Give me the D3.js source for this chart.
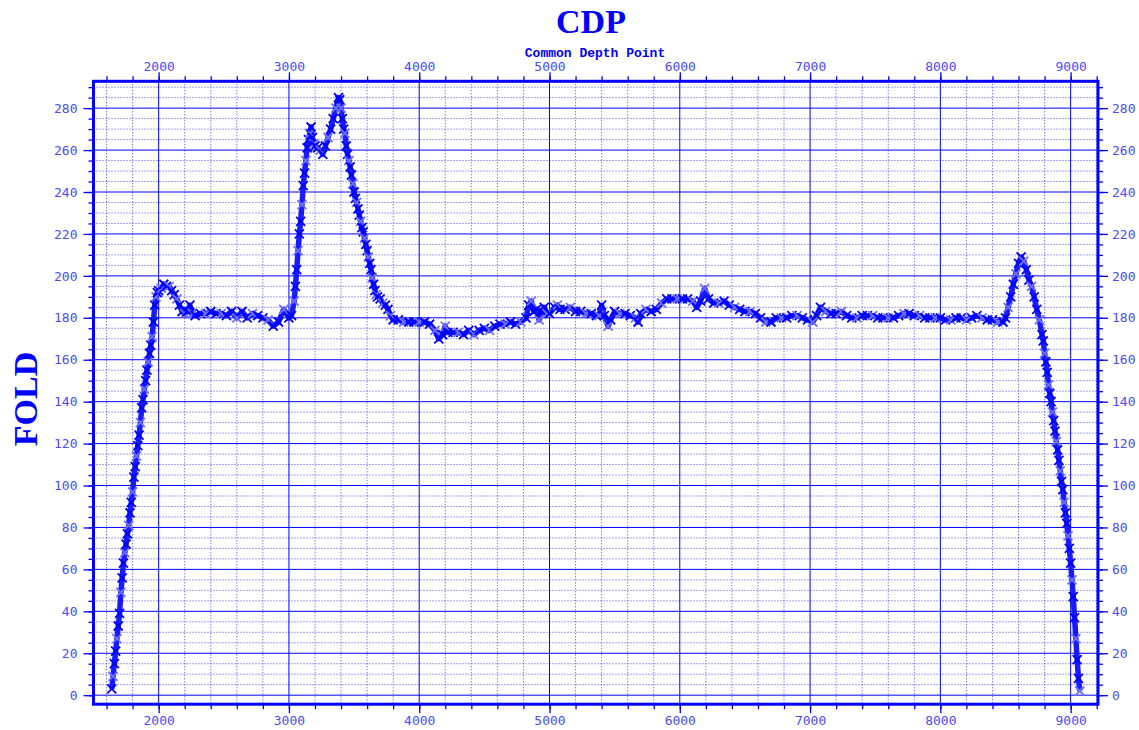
<!DOCTYPE html>
<html>
<head>
<meta charset="utf-8">
<script src="https://cdn.jsdelivr.net/npm/d3@7"></script>
<style>
  body { margin: 0; background: #fff; }
  .tick text { font-family: "DejaVu Sans Mono", monospace; font-size: 13px; fill: #4a4aff; }
</style>
</head>
<body>
<div id="chart"></div>
<script>
// CDP numbers
var cdp = [
  1640,1650,1660,1670,1680,1690,1700,1710,1720,1730,1740,1750,1760,1770,1780,1790,
  1800,1810,1820,1830,1840,1850,1860,1870,1880,1890,1900,1910,1920,1930,1940,1950,
  1960,1970,1980,1990,2000,2020,2040,2060,2080,2100,2120,2140,2160,2180,2200,2220,
  2240,2260,2280,2320,2360,2400,2440,2480,2520,2560,2600,2640,2680,2720,2760,2800,
  2840,2880,2920,2960,3000,3020,3040,3050,3060,3070,3080,3090,3100,3110,3120,3130,
  3140,3150,3160,3170,3180,3190,3200,3220,3240,3260,3280,3300,3320,3340,3360,3380,
  3390,3400,3410,3420,3430,3440,3450,3460,3470,3480,3490,3500,3510,3520,3530,3540,
  3550,3560,3570,3580,3590,3600,3610,3620,3630,3640,3650,3660,3670,3680,3700,3720,
  3740,3760,3780,3800,3840,3880,3920,3960,4000,4040,4080,4120,4150,4180,4200,4220,
  4260,4300,4340,4380,4420,4460,4500,4540,4580,4620,4660,4700,4740,4780,4820,4840,
  4860,4880,4900,4920,4940,4960,4980,5000,5040,5060,5080,5120,5160,5200,5240,5280,
  5320,5360,5380,5400,5420,5450,5470,5500,5540,5580,5620,5660,5680,5700,5740,5780,
  5820,5860,5900,5940,5980,6020,6060,6100,6130,6160,6190,6220,6260,6300,6340,6380,
  6420,6460,6500,6540,6580,6620,6660,6700,6740,6780,6820,6860,6900,6940,6980,7020,
  7050,7080,7120,7160,7200,7240,7280,7320,7360,7400,7440,7480,7520,7560,7600,7640,
  7680,7720,7760,7800,7840,7880,7920,7960,8000,8040,8080,8120,8160,8200,8240,8280,
  8320,8360,8400,8440,8480,8500,8520,8540,8560,8580,8600,8620,8640,8660,8680,8700,
  8720,8740,8760,8780,8790,8800,8810,8820,8830,8840,8850,8860,8870,8880,8890,8900,
  8910,8920,8930,8940,8950,8960,8970,8980,8990,9000,9010,9020,9030,9040,9050,9060,
  9070
];

// fold values at those CDPs
var fold = [
  3,9,15,21,27,33,39,49,56,63,68,72,77,81,87,92,
  97,104,109,114,119,124,130,137,141,146,150,155,159,163,167,171,
  178,186,190,192,193,194,196,195,195,193,191,189,186,183,182,183,
  186,182,181,182,182,183,182,182,181,183,180,183,180,182,181,180,
  179,176,178,184,180,181,188,195,203,212,220,226,234,243,249,255,
  261,265,268,271,266,263,262,261,260,258,262,266,270,275,280,285,
  284,280,275,270,268,262,258,255,252,248,244,240,237,235,232,229,
  226,223,221,218,215,212,209,206,203,199,196,193,191,190,189,187,
  186,184,181,179,179,178,178,178,178,178,177,174,170,172,176,173,
  173,173,172,174,172,174,175,174,176,177,177,178,177,178,180,186,
  188,183,184,179,183,185,182,182,185,186,184,184,185,183,183,182,
  182,181,181,186,181,176,179,183,182,182,181,180,178,182,184,183,
  184,187,189,189,189,189,189,188,185,188,194,189,187,187,188,186,
  185,184,183,183,182,180,178,178,180,180,180,181,181,180,179,178,
  181,185,183,182,182,183,181,180,180,181,181,181,180,180,180,180,
  181,182,182,181,181,180,180,180,180,179,179,180,180,179,180,181,
  180,179,179,178,178,180,185,190,196,201,206,209,207,203,198,195,
  190,184,179,172,169,163,159,154,148,144,140,135,131,126,121,117,
  112,107,102,98,92,87,82,76,70,63,55,47,37,27,17,8,
  2
];

var xMajor = [2000, 3000, 4000, 5000, 6000, 7000, 8000, 9000];
var yMajor = [0, 20, 40, 60, 80, 100, 120, 140, 160, 180, 200, 220, 240, 260, 280];

var width = 1139, height = 730;
var plotLeft = 93.5, plotRight = 1098, plotTop = 81.3, plotBottom = 704.2;
var blue = "#0000ff";

var svg = d3.select("#chart").append("svg")
    .attr("width", width)
    .attr("height", height);

var xScale = d3.scaleLinear().domain([1500, 9210]).range([plotLeft, plotRight]);
var yScale = d3.scaleLinear().domain([-4.3, 292.8]).range([plotBottom, plotTop]);

// minor grid positions
var allX = d3.range(1600, 9201, 200);
var allY = d3.range(0, 291, 5);
var xMinor = allX.filter(function(d){ return d % 1000 !== 0; });
var yMinor = allY.filter(function(d){ return d % 20 !== 0; });

var grid = svg.append("g");
grid.selectAll("line.vmin").data(xMinor).enter().append("line")
    .attr("x1", function(d){ return xScale(d); })
    .attr("x2", function(d){ return xScale(d); })
    .attr("y1", plotTop).attr("y2", plotBottom)
    .attr("stroke", "#4040ff").attr("stroke-width", 1)
    .attr("stroke-dasharray", "1,2");
grid.selectAll("line.hmin").data(yMinor).enter().append("line")
    .attr("y1", function(d){ return yScale(d); })
    .attr("y2", function(d){ return yScale(d); })
    .attr("x1", plotLeft).attr("x2", plotRight)
    .attr("stroke", "#4040ff").attr("stroke-width", 1)
    .attr("stroke-dasharray", "1,2");
grid.selectAll("line.vmaj").data(xMajor).enter().append("line")
    .attr("x1", function(d){ return xScale(d); })
    .attr("x2", function(d){ return xScale(d); })
    .attr("y1", plotTop).attr("y2", plotBottom)
    .attr("stroke", blue).attr("stroke-width", 1);
grid.selectAll("line.hmaj").data(yMajor).enter().append("line")
    .attr("y1", function(d){ return yScale(d); })
    .attr("y2", function(d){ return yScale(d); })
    .attr("x1", plotLeft).attr("x2", plotRight)
    .attr("stroke", blue).attr("stroke-width", 1);

// axes: minor ticks first, then major ticks with labels
function styleAxis(g) {
    g.select(".domain").remove();
    g.selectAll(".tick line").attr("stroke", blue).attr("stroke-width", 1.3);
}

svg.append("g").attr("transform", "translate(0," + plotTop + ")")
    .call(d3.axisTop(xScale).tickValues(allX).tickSize(5).tickFormat(""))
    .call(styleAxis);
svg.append("g").attr("transform", "translate(0," + plotTop + ")")
    .call(d3.axisTop(xScale).tickValues(xMajor).tickSize(9).tickPadding(1).tickFormat(d3.format("d")))
    .call(styleAxis);
svg.append("g").attr("transform", "translate(0," + plotBottom + ")")
    .call(d3.axisBottom(xScale).tickValues(allX).tickSize(5).tickFormat(""))
    .call(styleAxis);
svg.append("g").attr("transform", "translate(0," + plotBottom + ")")
    .call(d3.axisBottom(xScale).tickValues(xMajor).tickSize(9).tickPadding(3).tickFormat(d3.format("d")))
    .call(styleAxis);
svg.append("g").attr("transform", "translate(" + plotLeft + ",0)")
    .call(d3.axisLeft(yScale).tickValues(allY).tickSize(5).tickFormat(""))
    .call(styleAxis);
svg.append("g").attr("transform", "translate(" + plotLeft + ",0)")
    .call(d3.axisLeft(yScale).tickValues(yMajor).tickSize(10).tickPadding(6).tickFormat(d3.format("d")))
    .call(styleAxis);
svg.append("g").attr("transform", "translate(" + plotRight + ",0)")
    .call(d3.axisRight(yScale).tickValues(allY).tickSize(5).tickFormat(""))
    .call(styleAxis);
svg.append("g").attr("transform", "translate(" + plotRight + ",0)")
    .call(d3.axisRight(yScale).tickValues(yMajor).tickSize(10).tickPadding(4).tickFormat(d3.format("d")))
    .call(styleAxis);

// frame
svg.append("rect")
    .attr("x", plotLeft).attr("y", plotTop)
    .attr("width", plotRight - plotLeft).attr("height", plotBottom - plotTop)
    .attr("fill", "none").attr("stroke", blue).attr("stroke-width", 3);

// the fold curve
var pts = cdp.map(function(c, i){ return [c, fold[i]]; });
var line = d3.line()
    .x(function(d){ return xScale(d[0]); })
    .y(function(d){ return yScale(d[1]); });

svg.append("path")
    .datum(pts)
    .attr("d", line)
    .attr("fill", "none")
    .attr("stroke", "#1a1aff")
    .attr("stroke-width", 5.5)
    .attr("stroke-linejoin", "round");

svg.append("g").selectAll("path.mk").data(pts).enter().append("path")
    .attr("transform", function(d){ return "translate(" + xScale(d[0]) + "," + yScale(d[1]) + ")"; })
    .attr("d", "M-4.5,-4.5L4.5,4.5M-4.5,4.5L4.5,-4.5")
    .attr("stroke", function(d, i){ return i % 3 === 1 ? "#7070ff" : blue; })
    .attr("stroke-width", 1.8)
    .attr("fill", "none");

// titles
svg.append("text")
    .attr("x", 591).attr("y", 33)
    .attr("text-anchor", "middle")
    .attr("font-family", "Liberation Serif, serif")
    .attr("font-weight", "bold")
    .attr("font-size", 34)
    .attr("fill", blue)
    .text("CDP");

svg.append("text")
    .attr("x", 595).attr("y", 57)
    .attr("text-anchor", "middle")
    .attr("font-family", "Liberation Mono, monospace")
    .attr("font-weight", "bold")
    .attr("font-size", 13)
    .attr("fill", blue)
    .text("Common Depth Point");

svg.append("text")
    .attr("transform", "translate(37,399) rotate(-90)")
    .attr("text-anchor", "middle")
    .attr("font-family", "Liberation Serif, serif")
    .attr("font-weight", "bold")
    .attr("font-size", 34)
    .attr("fill", blue)
    .text("FOLD");
</script>
</body>
</html>
